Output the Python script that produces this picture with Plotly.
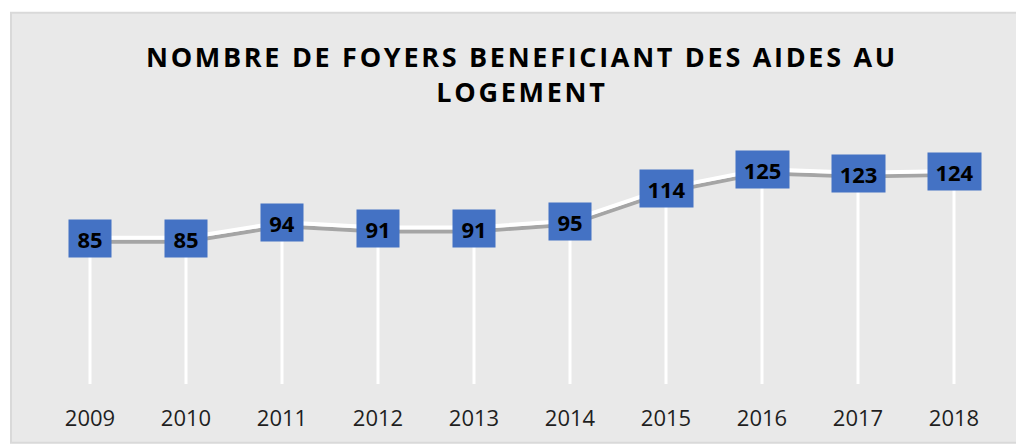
import plotly.graph_objects as go

years = ["2009", "2010", "2011", "2012", "2013", "2014", "2015", "2016", "2017", "2018"]
values = [85, 85, 94, 91, 91, 95, 114, 125, 123, 124]
title_lines = ["NOMBRE DE FOYERS BENEFICIANT DES AIDES AU", "LOGEMENT"]

W, H = 1016, 444
L, R, T, B = 42, 14, 144, 55
YMAX = 140
plot_h = H - T - B
px_per_unit = plot_h / YMAX
gray_shift_px = -3.5   # gray line sits slightly below the label centres
white_shift_px = 0.5   # white highlight just above the gray line

PANEL = "#E9E9E9"
BORDER = "#D9D9D9"
BLUE = "#4472C4"
GRAY = "#A5A5A5"
FONT = "Open Sans"

fig = go.Figure()

# drop lines
fig.add_trace(go.Scatter(
    x=years, y=values, mode="markers",
    marker=dict(size=1, opacity=0),
    error_y=dict(type="data", symmetric=False, array=[0] * len(values),
                 arrayminus=values, thickness=3, width=0, color="white"),
    hoverinfo="skip", showlegend=False))

# white highlight line (overlay axis shifted by a few pixels)
fig.add_trace(go.Scatter(
    x=years, y=values, mode="lines", yaxis="y3",
    line=dict(color="white", width=4), hoverinfo="skip", showlegend=False))

# gray line
fig.add_trace(go.Scatter(
    x=years, y=values, mode="lines", yaxis="y2",
    line=dict(color=GRAY, width=4), showlegend=False))

# data labels (category index positions)
for i, v in enumerate(values):
    t = str(v)
    fig.add_annotation(
        x=i, y=v, xref="x", yref="y", text="<b>%s</b>" % t, showarrow=False,
        font=dict(family=FONT, size=22, color="black"),
        bgcolor=BLUE, borderpad=5, width=len(t) * 11 + 10, height=27,
        xanchor="center", yanchor="middle")

# title
fig.add_annotation(
    x=0.5, xref="paper", y=(H - B - 73) / plot_h, yref="paper",
    text="<b><span style='letter-spacing:2.7px'>%s<br>%s</span></b>" % tuple(title_lines),
    showarrow=False, font=dict(family=FONT, size=27, color="black"),
    xanchor="center", yanchor="middle", align="center")

# panel background
plot_w = W - L - R
fig.add_shape(type="rect", layer="below", xref="paper", yref="paper",
              x0=(11 - L) / plot_w, x1=(W + 5 - L) / plot_w,
              y0=(H - B - (H + 5)) / plot_h, y1=(H - B - 10) / plot_h,
              fillcolor=PANEL, line=dict(color=BORDER, width=2))

g_off = gray_shift_px / px_per_unit
w_off = white_shift_px / px_per_unit
fig.update_layout(
    width=W, height=H,
    margin=dict(l=L, r=R, t=T, b=B, pad=0),
    paper_bgcolor="white", plot_bgcolor="rgba(0,0,0,0)",
    xaxis=dict(type="category", range=[-0.5, len(years) - 0.5],
               showgrid=False, zeroline=False, showline=False,
               ticks="outside", ticklen=15, tickcolor="rgba(0,0,0,0)",
               tickfont=dict(family=FONT, size=22, color="#1f1f1f")),
    yaxis=dict(range=[0, YMAX], visible=False, fixedrange=True),
    yaxis2=dict(range=[-g_off, YMAX - g_off], overlaying="y", visible=False),
    yaxis3=dict(range=[-w_off, YMAX - w_off], overlaying="y", visible=False),
    showlegend=False,
)

fig.write_html("out.html", config={"displayModeBar": False},
               post_script="document.body.style.margin='0';document.body.style.overflow='hidden';")
